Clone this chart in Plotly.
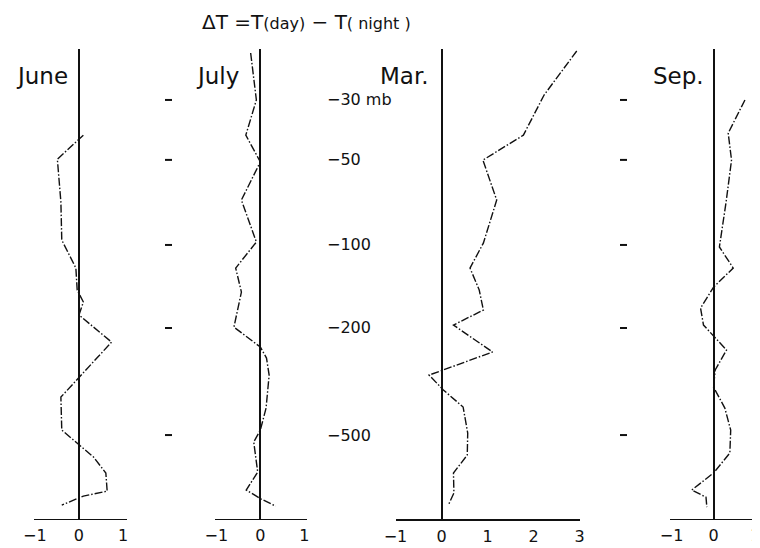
import plotly.graph_objects as go

# ---- data (height axis in km, approx. as drawn; dT in deg C) ----
MONTHS = ["June", "July", "Mar.", "Sep."]

JUNE_Z = [21.93, 20.62, 18.28, 16.21, 14.68, 13.48, 12.83, 12.12, 10.64, 7.64,
          5.84, 4.37, 3.50, 2.51, 2.24, 1.75]
JUNE_DT = [0.10, -0.49, -0.41, -0.39, -0.07, -0.04, 0.10, 0.00, 0.74, -0.41,
           -0.39, 0.33, 0.61, 0.64, 0.10, -0.39]

JULY_Z = [26.41, 23.85, 21.93, 20.47, 18.39, 16.10, 14.68, 13.37, 11.46, 10.37,
          9.77, 8.84, 7.04, 5.84, 5.19, 3.55, 2.57, 2.08, 1.69]
JULY_DT = [-0.22, -0.09, -0.33, 0.00, -0.43, -0.09, -0.56, -0.43, -0.60, 0.00,
           0.14, 0.20, 0.13, 0.00, -0.15, -0.06, -0.32, 0.02, 0.35]

MAR_Z = [26.52, 24.12, 21.93, 20.57, 18.39, 16.04, 14.68, 13.48, 12.39, 11.57,
         10.10, 8.84, 8.03, 7.10, 5.68, 4.48, 3.50, 2.41, 1.75]
MAR_DT = [2.94, 2.23, 1.78, 0.90, 1.20, 0.91, 0.62, 0.82, 0.91, 0.26,
          1.11, -0.27, 0.04, 0.47, 0.57, 0.56, 0.26, 0.27, 0.15]

SEP_Z = [23.85, 22.04, 20.57, 18.28, 15.83, 14.68, 13.64, 12.50, 11.57, 10.21,
         9.12, 8.19, 7.04, 5.84, 4.59, 3.50, 2.57, 2.18, 1.64]
SEP_DT = [0.75, 0.35, 0.43, 0.30, 0.14, 0.47, 0.00, -0.31, -0.24, 0.31,
          0.04, 0.00, 0.27, 0.41, 0.39, 0.00, -0.52, -0.18, -0.16]

PRESSURE_Z = [23.85, 20.58, 15.94, 11.41, 5.57]
PRESSURE_TEXT = ["\u221230 mb", "\u221250", "\u2212100", "\u2212200", "\u2212500"]

TICKS_SMALL = [-1, 0, 1]
TICKS_MAR = [-1, 0, 1, 2, 3]

# page body has an 8px margin: the figure is drawn 8px in from the corner
OFF = 8
W, H = 760 - OFF, 548 - OFF
FONT = "DejaVu Sans"
INK = "#111111"

fig = go.Figure()

series = [(JUNE_DT, JUNE_Z), (JULY_DT, JULY_Z), (MAR_DT, MAR_Z), (SEP_DT, SEP_Z)]
for i, (dt, z) in enumerate(series):
    xa = "x" if i == 0 else f"x{i+1}"
    fig.add_trace(go.Scatter(
        x=dt, y=z, xaxis=xa, yaxis="y", mode="lines",
        line=dict(color=INK, width=1.4, dash="8px,2px,1.5px,2px"),
        showlegend=False, hoverinfo="skip"))

def px(x):
    # page pixel column -> paper x
    return (x - OFF) / W

TOP, BOT = 49, 519  # page rows of plot-area top / x-axis line

def py(p):
    # page pixel row -> paper y
    return (BOT - p) / (BOT - TOP)

domains = [(34, 127), (215, 307), (395.5, 579.5), (670, 760)]
ranges = [(-1.02, 1.09), (-1.03, 1.06), (-1.0, 3.0), (-1.04, 1.11)]
tickv = [TICKS_SMALL, TICKS_SMALL, TICKS_MAR, TICKS_SMALL]

for i in range(4):
    key = "xaxis" if i == 0 else f"xaxis{i+1}"
    fig.layout[key] = dict(
        domain=[px(domains[i][0]), min(1.0, px(domains[i][1]))],
        range=list(ranges[i]), anchor="y", automargin=False,
        showline=True, linecolor=INK, linewidth=2 if i == 2 else 1.4,
        showgrid=False, zeroline=True, zerolinecolor=INK, zerolinewidth=1.6,
        tickvals=tickv[i], ticks="", ticklabelstandoff=2,
        ticklabeloverflow="allow",
        tickfont=dict(family=FONT, size=16, color=INK),
        fixedrange=True,
    )

fig.update_layout(
    yaxis=dict(range=[0.99, 26.63], visible=False, showgrid=False,
               zeroline=False, fixedrange=True, automargin=False),
    width=W, height=H,
    margin=dict(l=0, r=0, t=TOP - OFF, b=548 - BOT, autoexpand=False),
    paper_bgcolor="white", plot_bgcolor="white",
)

# month titles (right edges next to the zero lines)
title_right = [70, 241, 431, 706]
for m, xr in zip(MONTHS, title_right):
    fig.add_annotation(text=m, x=px(xr), y=py(76), xref="paper", yref="paper",
                       xanchor="right", yanchor="middle", showarrow=False,
                       font=dict(family=FONT, size=23, color=INK))

# main title
fig.add_annotation(
    text="\u0394T =T<span style='font-size:16px'>(day)</span> \u2212 T<span style='font-size:16px'>( night )</span>",
    x=px(200), y=py(22), xref="paper", yref="paper", xanchor="left",
    yanchor="middle", showarrow=False, font=dict(family=FONT, size=20, color=INK))

# pressure labels
for z, t in zip(PRESSURE_Z, PRESSURE_TEXT):
    fig.add_annotation(text=t, x=px(325), y=z, xref="paper", yref="y",
                       xanchor="left", yanchor="middle", showarrow=False,
                       font=dict(family=FONT, size=16, color=INK))

# small level ticks in the July and Sep panels
for z in PRESSURE_Z:
    for x0, x1 in [(165, 172), (620, 627)]:
        fig.add_shape(type="line", xref="paper", yref="y", x0=px(x0), x1=px(x1),
                      y0=z, y1=z, line=dict(color=INK, width=2))

fig.write_html("out.html")
